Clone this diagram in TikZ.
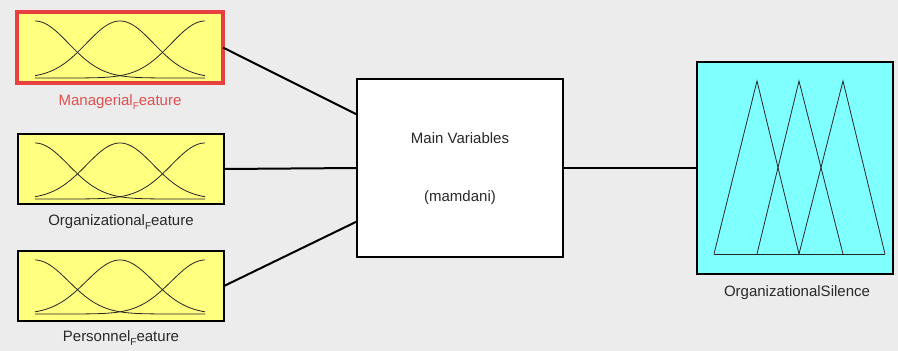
\documentclass[tikz,border=0pt]{standalone}
\usepackage{fontspec}
\setmainfont{Liberation Sans}
\usetikzlibrary{calc}
\definecolor{bg}{RGB}{236,236,236}
\definecolor{fyellow}{RGB}{255,255,128}
\definecolor{fcyan}{RGB}{128,255,255}
\definecolor{fred}{RGB}{232,64,64}
\definecolor{lblred}{RGB}{224,80,80}
\definecolor{txt}{RGB}{40,40,40}
\newcommand{\subF}{\raisebox{-4pt}{\fontsize{10}{10}\selectfont F}}
\tikzset{
  inbox/.style={draw=black, line width=1.2pt, fill=fyellow, minimum width=206pt, minimum height=70pt, inner sep=0pt, outer sep=0pt},
  mainbox/.style={draw=black, line width=1.5pt, fill=white, minimum width=206pt, minimum height=178pt, inner sep=0pt, outer sep=0pt},
  outbox/.style={draw=black, line width=1.2pt, fill=fcyan, minimum width=196pt, minimum height=212pt, inner sep=0pt, outer sep=0pt},
  lbl/.style={text=txt, font=\fontsize{15}{17}\selectfont, inner sep=0pt},
  conn/.style={line width=2pt, black},
  mf/.style={line width=0.8pt, black!85}
}
\begin{document}
\begin{tikzpicture}[x=1pt,y=-1pt]
\useasboundingbox (0,0) rectangle (898,351);
\fill[bg] (0,0) rectangle (898,351);
% input boxes
\node[inbox, draw=fred, line width=4pt, minimum width=206pt, minimum height=71pt] (b1) at (120,47.5) {};
\node[inbox] (b2) at (121,169) {};
\node[inbox] (b3) at (121,286) {};
\node[mainbox] (main) at (460,168) {};
\node[outbox] (out) at (795,168) {};
% labels
\node[lbl, text=lblred] (l1) at (120,102) {Managerial\subF eature};
\node[lbl] (l2) at (121,222) {Organizational\subF eature};
\node[lbl] (l3) at (121,338) {Personnel\subF eature};
\node[lbl] (l4) at (797,293) {OrganizationalSilence};
\node[lbl] (m1) at (460,138) {Main Variables};
\node[lbl] (m2) at (460,198) {(mamdani)};
% connectors
\draw[conn] (b1.east) -- ($(main.north west)!0.2!(main.south west)$);
\draw[conn] (b2.east) -- (main.west);
\draw[conn] (b3.east) -- ($(main.north west)!0.8!(main.south west)$);
\draw[conn] (main.east) -- (out.west);
% gaussian membership functions
\foreach \yb/\h in {78/57, 199/56, 314/54}{
  \foreach \c in {35,120,205}{
    \draw[mf] plot[domain=35:205, samples=80, smooth] (\x, {\yb - \h*exp(-0.5*((\x-\c)/33.6)^2)});
  }
}
% triangular membership functions
\draw[mf] (714,254) -- (757,81) -- (799,254);
\draw[mf] (757,254) -- (799,81) -- (843,254);
\draw[mf] (799,254) -- (843,81) -- (885,254);
\draw[mf] (714,254) -- (885,254);
\end{tikzpicture}
\end{document}
